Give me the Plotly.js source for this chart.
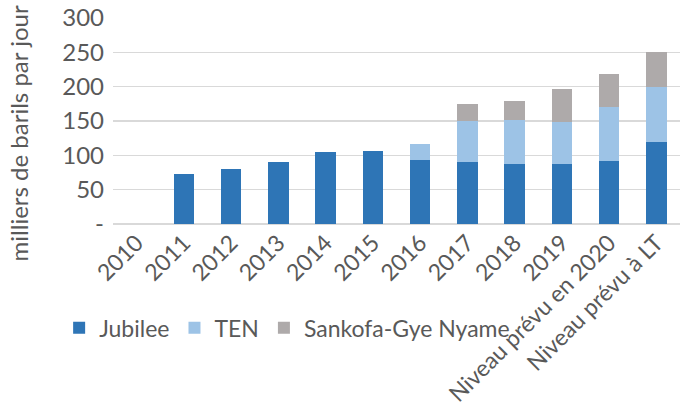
<!DOCTYPE html>
<html>
<head>
<meta charset="utf-8">
<script src="https://cdn.plot.ly/plotly-3.0.1.min.js"></script>
<style>html,body{margin:0;padding:0;background:#fff;}#chart{width:684px;height:412px;}</style>
</head>
<body>
<div id="chart"></div>
<script>
const categories = ["2010","2011","2012","2013","2014","2015","2016","2017","2018","2019","Niveau prévu en 2020","Niveau prévu à LT"];
const jubilee = [0, 73, 80, 90, 105, 106, 93, 90, 87, 87, 92, 120];
const ten = [0, 0, 0, 0, 0, 0, 24, 60, 65, 61, 78, 79];
const sankofa = [0, 0, 0, 0, 0, 0, 0, 25, 27, 48, 49, 51];
const yTickVals = [0, 50, 100, 150, 200, 250, 300];
const yTickText = ["-", "50", "100", "150", "200", "250", "300"];
const yTitle = "milliers de barils par jour";

const fam = "Lato, 'Open Sans', sans-serif";
const col = "#595959";
const font = {family: fam, size: 23, color: col};

const traces = [
  {type: "bar", name: "Jubilee", x: categories, y: jubilee, marker: {color: "#2E75B6"}},
  {type: "bar", name: "TEN", x: categories, y: ten, marker: {color: "#9DC3E6"}},
  {type: "bar", name: "Sankofa-Gye Nyame", x: categories, y: sankofa, marker: {color: "#AEAAAA"}}
];

const layout = {
  width: 684, height: 412,
  margin: {l: 113, r: 4, t: 18, b: 188},
  barmode: "stack",
  bargap: 0.57,
  paper_bgcolor: "#fff", plot_bgcolor: "#fff",
  font: font,
  showlegend: true,
  legend: {orientation: "h", traceorder: "normal", x: -0.095, y: -0.4, xanchor: "left", yanchor: "top",
           font: {family: fam, size: 23, color: col}, itemwidth: 30, tracegroupgap: 0, bgcolor: "rgba(0,0,0,0)"},
  xaxis: {type: "category", tickangle: -45, tickfont: {family: fam, size: 23, color: col}, showgrid: false, showline: false, ticks: "", zeroline: false},
  yaxis: {range: [0, 300], tickvals: yTickVals, ticktext: yTickText, tickfont: {family: fam, size: 24, color: col},
          showgrid: true, gridcolor: "#d9d9d9", gridwidth: 1.5, zeroline: true, zerolinecolor: "#d9d9d9", zerolinewidth: 1.5,
          showline: false, ticks: "", ticklabelstandoff: 8},
  annotations: [{text: yTitle, xref: "paper", yref: "paper", x: -0.1675, y: 0.44, xanchor: "center", yanchor: "middle",
                 textangle: -90, showarrow: false, font: {family: fam, size: 24, color: col}}]
};

Plotly.newPlot("chart", traces, layout, {displayModeBar: false, staticPlot: true});
</script>
</body>
</html>
